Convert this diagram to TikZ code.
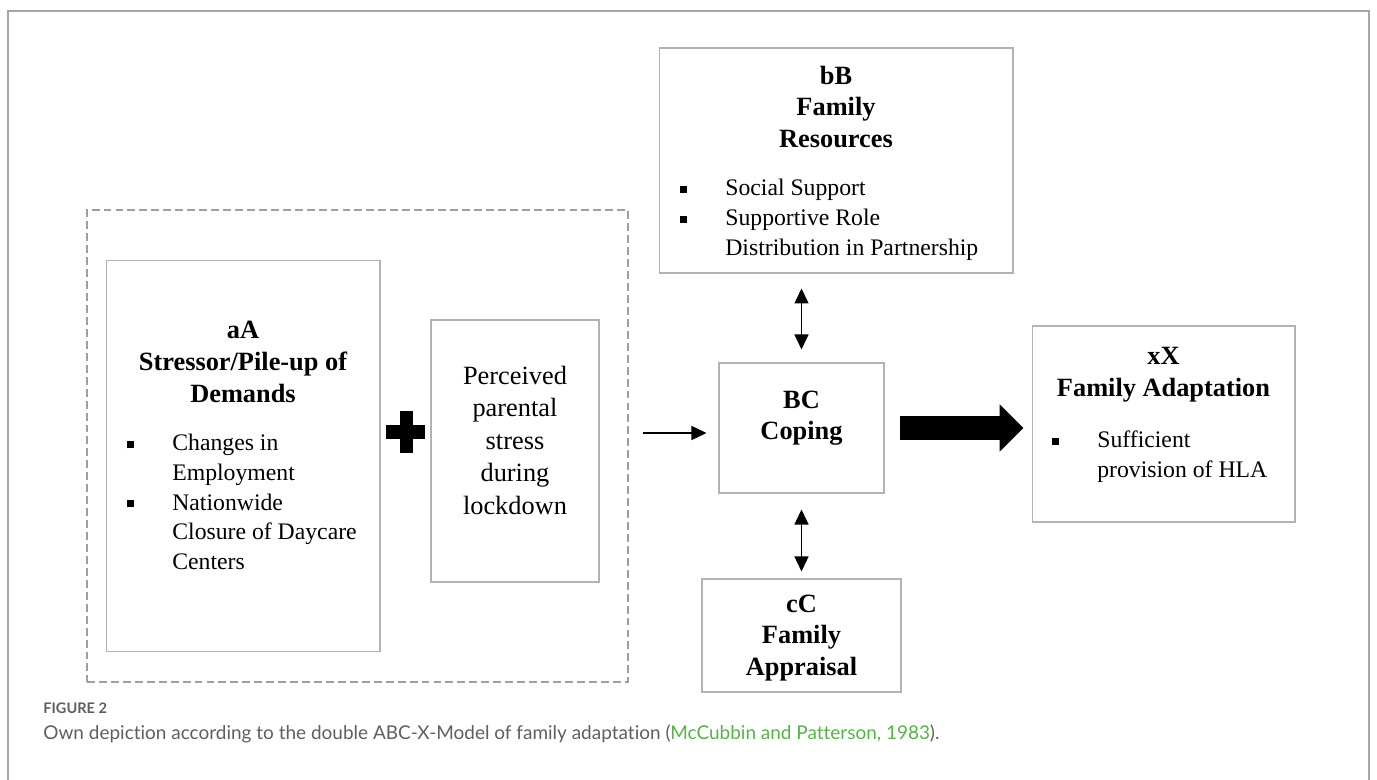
\documentclass[tikz,border=0pt]{standalone}
\usepackage{fontspec}
\setmainfont{Liberation Serif}
\newfontfamily\capfont[Ligatures=NoCommon]{Lato}
\usetikzlibrary{arrows.meta,positioning}
\definecolor{capgray}{RGB}{95,95,95}
\definecolor{citegreen}{RGB}{88,178,72}
\newcommand{\sqb}{\rule[0.25ex]{4pt}{4pt}}
\newcommand{\hdfont}{\fontsize{15}{18}\selectfont\bfseries}
\newcommand{\txfont}{\fontsize{13.5}{16.8}\selectfont}
\newcommand{\blist}[1]{\begin{tabular}[t]{@{}p{0.9cm}@{}l@{}}#1\end{tabular}}

\begin{document}
\begin{tikzpicture}[x=0.02cm,y=-0.02cm,>={Triangle[length=0.3cm,width=0.28cm]},
    box/.style={draw=gray!60,line width=0.6pt,inner sep=0pt},
    grp/.style={draw=gray!75,dashed,dash pattern=on 4.5pt off 2.3pt,line width=0.8pt,inner sep=0pt},
    hd/.style={font=\hdfont,align=center,inner sep=0pt},
    lst/.style={font=\txfont,inner sep=0pt,anchor=base west},
    link/.style={<->,line width=0.8pt},
    captxt/.style={anchor=base west,inner sep=0pt,text=capgray}]

  \useasboundingbox (0,0) rectangle (1377,780);
  \draw[gray!70,line width=0.9pt] (8,780) |- (1369,11) -- (1369,780);

  \node[grp,minimum width=10.82cm,minimum height=9.44cm] (grp) at (357.5,446) {};
  \node[box,minimum width=5.48cm,minimum height=7.84cm] (aA)   at (243,456)     {};
  \node[box,minimum width=3.36cm,minimum height=5.24cm] (perc) at (515,451)     {};
  \node[box,minimum width=7.08cm,minimum height=4.5cm]  (bB)   at (836,160.5)   {};
  \node[box,minimum width=3.3cm,minimum height=2.6cm]   (BC)   at (801.5,428)   {};
  \node[box,minimum width=3.98cm,minimum height=2.26cm] (cC)   at (801.5,635.5) {};
  \node[box,minimum width=5.26cm,minimum height=3.92cm] (xX)   at (1163.5,424)  {};

  \node[hd] (aAhd) at (243,362) {aA\\Stressor/Pile-up of\\Demands};
  \node[lst] (aAlst) at (127,451) {\blist{\sqb & Changes in\\ & Employment\\
      \sqb & Nationwide\\ & Closure of Daycare\\ & Centers}};
  \node[align=center,inner sep=0pt,font=\fontsize{15}{18.5}\selectfont] (percT) at (515,440)
      {Perceived\\parental\\stress\\during\\lockdown};
  \node[hd] (bBhd) at (836,107) {bB\\Family\\Resources};
  \node[lst] (bBlst) at (680,196) {\blist{\sqb & Social Support\\ \sqb & Supportive Role\\
      & Distribution in Partnership}};
  \node[hd] (BChd) at (801.5,418) {BC\\Coping};
  \node[hd] (cChd) at (801.5,638) {cC\\Family\\Appraisal};
  \node[hd] (xXhd) at (1163.5,375) {xX\\Family Adaptation};
  \node[lst] (xXlst) at (1052,448) {\blist{\sqb & Sufficient\\ & provision of HLA}};

  \fill (386,425) rectangle (425,439);
  \fill (400,411) rectangle (413,453);

  \coordinate (inA) at (643,433);
  \draw[->,line width=0.8pt,shorten >=0.24cm] (inA) -- (inA -| BC.west);
  \draw[link,shorten <=0.3cm,shorten >=0.26cm] (BC.north |- bB.south) -- (BC.north);
  \draw[link,shorten <=0.32cm,shorten >=0.14cm] (BC.south) -- (cC.north);
  \draw[line width=0.48cm,-{Triangle[length=0.48cm,width=0.92cm]},
        shorten <=0.3cm,shorten >=0.16cm] (BC.east) -- (BC.east -| xX.west);

  \node[captxt,font=\capfont\bfseries\fontsize{8.3}{10}\selectfont] (fig) at (43,713) {FIGURE 2};
  \node[captxt,font=\capfont\fontsize{10.8}{12}\selectfont] (capt) at (43,739)
      {Own depiction according to the double ABC-X-Model of family adaptation
       ({\color{citegreen}McCubbin and Patterson, 1983}).};
\end{tikzpicture}
\end{document}
